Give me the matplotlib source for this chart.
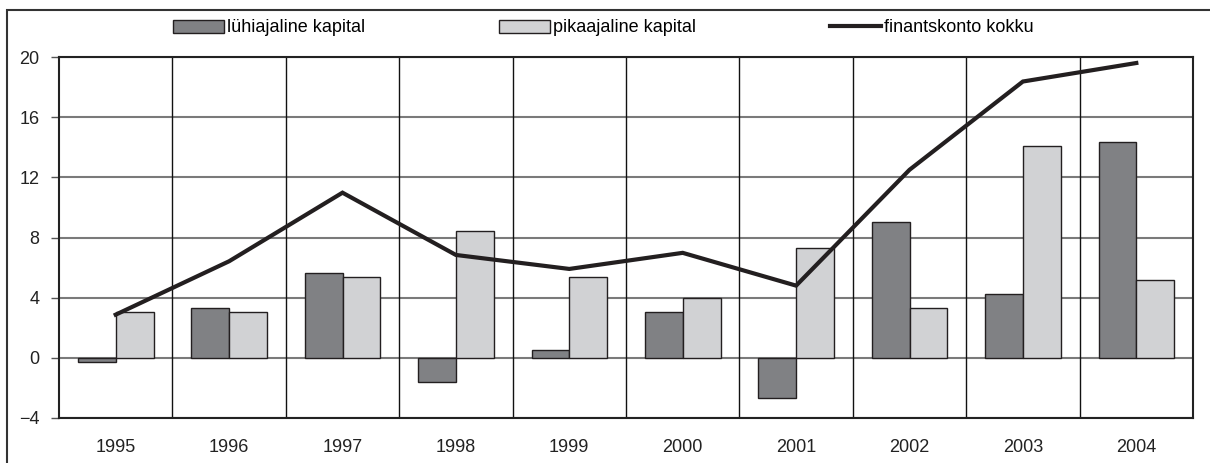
import numpy as np
import matplotlib.pyplot as plt
import matplotlib.patches as mpatches
from matplotlib.lines import Line2D

plt.rcParams['font.family'] = ['Liberation Sans', 'DejaVu Sans']
plt.rcParams['font.size'] = 13

years = ['1995', '1996', '1997', '1998', '1999', '2000', '2001', '2002', '2003', '2004']
luhiajaline = [-0.27, 3.33, 5.62, -1.62, 0.53, 3.07, -2.69, 9.06, 4.27, 14.35]
pikaajaline = [3.07, 3.07, 5.36, 8.42, 5.36, 4.0, 7.33, 3.33, 14.1, 5.2]
finantskonto = [2.87, 6.42, 10.98, 6.84, 5.91, 6.98, 4.8, 12.5, 18.37, 19.6]

dark = '#808184'
light = '#d1d2d4'
edge = '#231f20'

fig = plt.figure(figsize=(12.1, 4.63), dpi=100)
ax = fig.add_axes([59/1210, 45/463, (1193-59)/1210, (418-57)/463])

# outer frame of the whole chart
fig.patches.append(mpatches.Rectangle((7/1210, -0.05), 1.1, (463-10)/463 + 0.05,
                                      transform=fig.transFigure, fill=False,
                                      edgecolor='#333333', linewidth=1.5))

x = np.arange(len(years))
w = 1/3
ax.set_axisbelow(True)
ax.bar(x - w/2, luhiajaline, width=w, color=dark, edgecolor=edge, linewidth=1, zorder=3)
ax.bar(x + w/2, pikaajaline, width=w, color=light, edgecolor=edge, linewidth=1, zorder=3)
ax.plot(x, finantskonto, color=edge, linewidth=3, zorder=4, solid_joinstyle='miter')

ax.set_xlim(-0.5, len(years) - 0.5)
ax.set_ylim(-4, 20)
ax.set_yticks(np.arange(-4, 21, 4))
ax.yaxis.grid(True, color='#7a7a7a', linewidth=1.5)
for i in range(len(years) - 1):
    ax.axvline(i + 0.5, color='#111111', linewidth=1, zorder=2)

ax.set_xticks(x)
ax.set_xticklabels(years)
ax.tick_params(axis='x', length=0, pad=15, labelcolor='#222222')
ax.tick_params(axis='y', length=6, width=1, color='#555555', pad=8, labelcolor='#222222')
for s in ax.spines.values():
    s.set_color('#222222')
    s.set_linewidth(1.5)

handles = [mpatches.Patch(facecolor=dark, edgecolor=edge, linewidth=1),
           mpatches.Patch(facecolor=light, edgecolor=edge, linewidth=1),
           Line2D([], [], color=edge, linewidth=3)]
labels = ['lühiajaline kapital', 'pikaajaline kapital', 'finantskonto kokku']
fig.legend(handles, labels, loc='center left', bbox_to_anchor=(173/1210, 1 - 28/463), ncol=3,
           frameon=False, borderpad=0, borderaxespad=0, handlelength=2.85, handleheight=0.75,
           handletextpad=0.15, columnspacing=7.4, fontsize=13)

fig.savefig('out.png', dpi=100)
